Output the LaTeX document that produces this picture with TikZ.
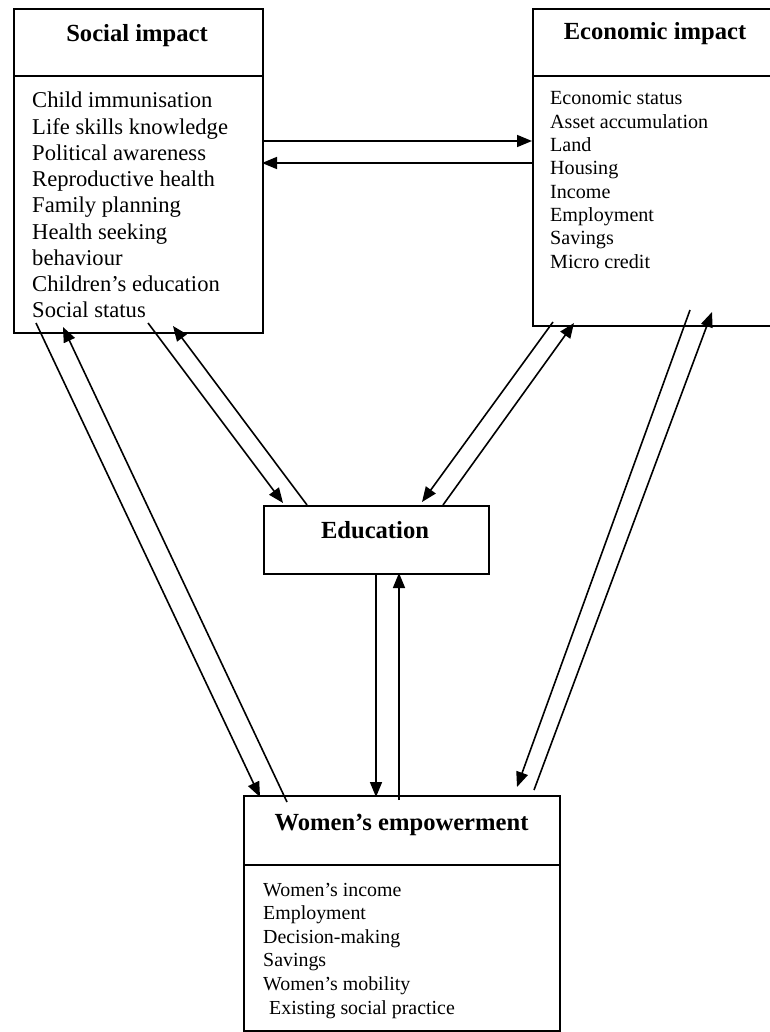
\documentclass[tikz,border=0pt]{standalone}
\usepackage{fontspec}
\setmainfont{Liberation Serif}
\usetikzlibrary{arrows.meta}
\newcommand{\boxlist}[1]{\begin{tabular}[t]{@{}l@{}}#1\end{tabular}}
\tikzset{
  box/.style={draw, line width=1.8pt, inner sep=0pt, anchor=north west},
  divider/.style={line width=1.8pt},
  titletext/.style={font=\fontsize{24.6}{28}\selectfont\bfseries, anchor=base, inner sep=0pt},
  listtext/.style={anchor=base west, inner sep=0pt},
  conn/.style={line width=1.6pt, -{Triangle[length=15pt,width=12pt]}}
}
\begin{document}
\begin{tikzpicture}[x=1pt,y=-1pt]
\useasboundingbox (0,0) rectangle (769,1032);
% boxes
\node[box, minimum width=249pt, minimum height=324pt] (soc) at (13,8) {};
\node[box, minimum width=240pt, minimum height=317pt] (eco) at (532,8) {};
\node[box, minimum width=225pt, minimum height=68pt] (edu) at (263,505) {};
\node[box, minimum width=316pt, minimum height=235pt] (wom) at (243,795) {};
\draw[divider] (soc.west |- 0,76) -- (soc.east |- 0,76);
\draw[divider] (eco.west |- 0,76) -- (eco.east |- 0,76);
\draw[divider] (wom.west |- 0,865) -- (wom.east |- 0,865);
% titles
\node[titletext] (socT) at (137,42) {Social impact};
\node[titletext] (ecoT) at (655,40) {Economic impact};
\node[titletext] (eduT) at (375,538) {Education};
\node[titletext] (womT) at (401.5,830) {Women’s empowerment};
% lists
\node[listtext, font=\fontsize{22.6}{26.25}\selectfont] (socL) at (32,108) {\boxlist{Child immunisation\\Life skills knowledge\\Political awareness\\Reproductive health\\Family planning\\Health seeking\\behaviour\\Children’s education\\Social status}};
\node[listtext, font=\fontsize{20.1}{23.3}\selectfont] (ecoL) at (550,105) {\boxlist{Economic status\\Asset accumulation\\Land\\Housing\\Income\\Employment\\Savings\\Micro credit}};
\node[listtext, font=\fontsize{19.9}{23.6}\selectfont] (womL) at (263,896) {\boxlist{Women’s income\\Employment\\Decision-making\\Savings\\Women’s mobility\\\hspace{6pt}Existing social practice}};
% connector end points
\coordinate (a1) at (262,141); \coordinate (b1) at (532,141);
\coordinate (a2) at (532,163); \coordinate (b2) at (262,163);
\coordinate (a3) at (36,323);  \coordinate (b3) at (260,797);
\coordinate (a4) at (287,802); \coordinate (b4) at (63,327);
\coordinate (a5) at (148,323); \coordinate (b5) at (283,503);
\coordinate (a6) at (307,505); \coordinate (b6) at (173,326);
\coordinate (a7) at (553,322); \coordinate (b7) at (422,502);
\coordinate (a8) at (443,505); \coordinate (b8) at (574,323);
\coordinate (a9) at (690,310); \coordinate (b9) at (517,787);
\coordinate (a10) at (534,790); \coordinate (b10) at (712,312);
\coordinate (a11) at (376,573); \coordinate (b11) at (376,797);
\coordinate (a12) at (399,800); \coordinate (b12) at (399,573);
\foreach \i in {1,...,12} {\draw[conn] (a\i) -- (b\i);}
\end{tikzpicture}
\end{document}
